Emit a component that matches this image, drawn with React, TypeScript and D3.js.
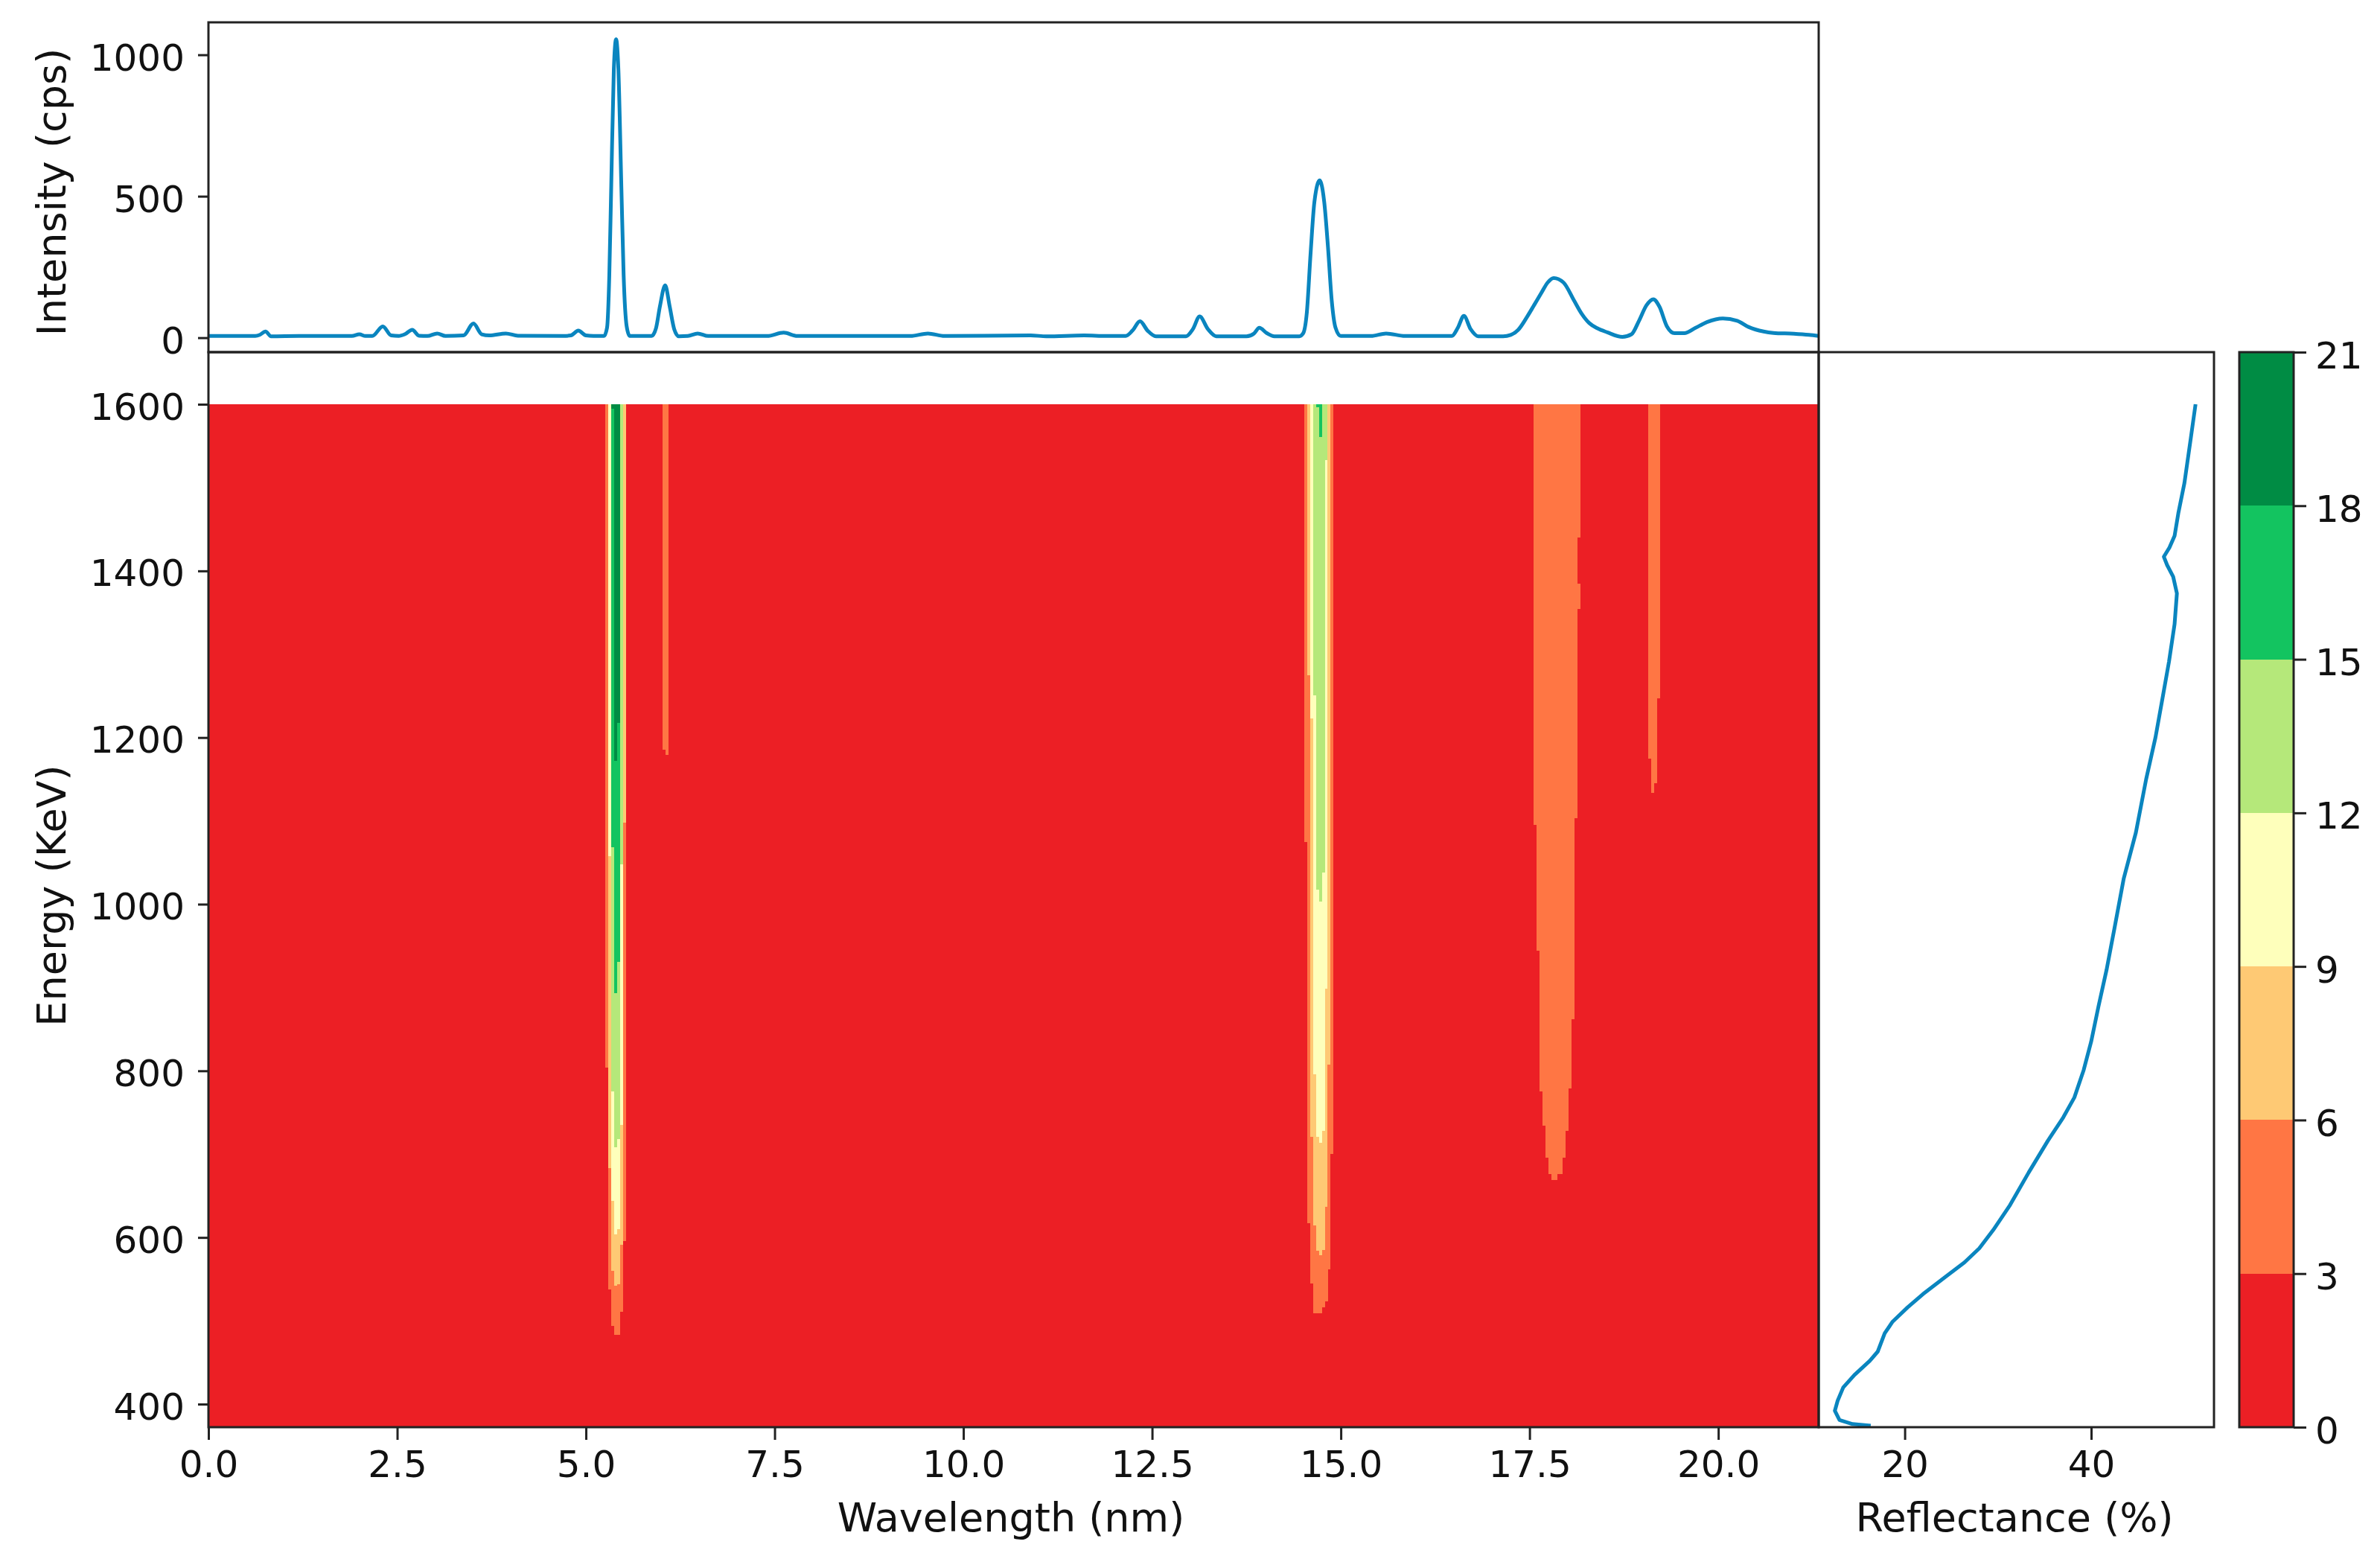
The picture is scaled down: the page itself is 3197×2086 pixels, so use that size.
import * as d3 from "d3";
import { useEffect, useRef } from "react";

// top panel: spectrum
const specWavelength = [
  0, 0.4, 0.62, 0.68, 0.755, 0.83, 1.2, 1.9, 2.0, 2.08, 2.17, 2.31, 2.42, 2.52, 2.6, 2.7, 2.79, 2.9, 3.03, 3.14, 3.38, 3.51,
  3.62, 3.72, 3.94, 4.1, 4.7, 4.8, 4.9, 5.0, 5.1, 5.24, 5.28, 5.31, 5.335, 5.37, 5.4, 5.43, 5.47, 5.5, 5.54, 5.58, 5.8, 5.87,
  5.93, 5.98, 6.05, 6.11, 6.17, 6.23, 6.35, 6.48, 6.62, 7.4, 7.62, 7.8, 9.3, 9.53, 9.75, 10.89, 11.1, 11.6, 11.9, 12.15, 12.24,
  12.34, 12.44, 12.55, 12.95, 13.04, 13.13, 13.24, 13.35, 13.75, 13.85, 13.92, 14.02, 14.12, 14.45, 14.5, 14.55, 14.6, 14.65,
  14.72, 14.78, 14.83, 14.88, 14.93, 15, 15.4, 15.6, 15.85, 16.47, 16.55, 16.63, 16.72, 16.82, 17.15, 17.25, 17.35, 17.47,
  17.56, 17.66, 17.74, 17.82, 17.95, 18.09, 18.19, 18.29, 18.4, 18.53, 18.73, 18.85, 18.95, 19.05, 19.14, 19.22, 19.32, 19.42,
  19.55, 19.7, 19.85, 20.06, 20.25, 20.4, 20.6, 20.73, 21, 21.2, 21.33,
];
const specIntensity = [
  6, 6, 6, 10, 22, 5, 6, 6, 12, 6, 6, 40, 8, 6, 12, 28, 7, 6, 15, 6, 8, 50, 12, 8, 15, 7, 6, 8, 25, 8, 6, 6, 35, 220, 530,
  950, 1055, 950, 530, 220, 40, 6, 6, 6, 35, 110, 185, 110, 30, 5, 6, 15, 6, 6, 18, 6, 6, 15, 6, 8, 5, 8, 6, 6, 25, 58, 25, 5,
  5, 30, 75, 30, 5, 5, 15, 35, 16, 5, 5, 15, 90, 300, 480, 556, 480, 320, 130, 35, 6, 6, 15, 6, 6, 35, 77, 30, 5, 5, 10, 28,
  75, 115, 160, 195, 211, 195, 131, 85, 52, 33, 19, 3, 12, 60, 115, 136, 110, 40, 16, 16, 35, 55, 68, 60, 38, 22, 17, 14, 10, 6,
];

// right panel: reflectance against energy
const reflEnergy = [
  1600, 1560, 1505, 1469, 1442, 1428, 1417, 1407, 1393, 1373, 1336, 1291, 1250, 1200, 1150, 1086, 1031, 971, 921, 878, 835,
  801, 768, 744, 716, 678, 639, 609, 587, 570, 553, 532, 516, 499, 485, 463, 452, 435, 420, 404, 392, 381, 376, 374,
];
const reflectance = [
  51.2, 50.7, 50, 49.35, 48.95, 48.4, 47.8, 48.15, 48.8, 49.2, 48.95, 48.35, 47.7, 46.9, 45.9, 44.8, 43.5, 42.5, 41.65, 40.8,
  40, 39.2, 38.2, 37, 35.35, 33.3, 31.3, 29.5, 28, 26.4, 24.4, 21.95, 20.3, 18.7, 17.85, 17.1, 16.25, 14.6, 13.4, 12.8, 12.5,
  13, 14.4, 16.35,
];

const xTicks = [0, 2.5, 5, 7.5, 10, 12.5, 15, 17.5, 20];
const intensityTicks = [0, 500, 1000];
const energyTicks = [400, 600, 800, 1000, 1200, 1400, 1600];
const reflTicks = [20, 40];
const levelTicks = [0, 3, 6, 9, 12, 15, 18, 21];
const levelColors = ["#ec1f25", "#ff7644", "#fec974", "#feffbb", "#b5e87a", "#13c460", "#008c44"];

const cellWidth = 0.0385;
const energyMax = 1600;

// heatmap columns: [wavelength, then lowest energy where the value reaches 3, 6, 9, 12, 15, 18]
type HeatRow = (number | null)[];
const peakA: HeatRow[] = [
  [5.256, 804, null, null, null, null, null],
  [5.296, 538, 683, 1058, null, null, null],
  [5.335, 494, 560, 644, 775, 1068, 1595],
  [5.375, 483, 542, 604, 708, 893, 1172],
  [5.414, 483, 544, 610, 718, 931, 1218],
  [5.454, 511, 591, 735, 1048, null, null],
  [5.493, 596, 1098, null, null, null, null],
];
const peakB: HeatRow[] = [
  [6.016, 1185, null, null, null, null, null],
  [6.055, 1179, null, null, null, null, null],
];
const peakC: HeatRow[] = [
  [14.518, 1075, null, null, null, null, null],
  [14.557, 617, 1275, null, null, null, null],
  [14.595, 545, 721, 1223, null, null, null],
  [14.634, 509, 614, 796, 1251, null, null],
  [14.672, 509, 584, 721, 1017, 1596, null],
  [14.711, 509, 579, 714, 1003, 1561, null],
  [14.749, 516, 585, 728, 1038, null, null],
  [14.788, 523, 637, 899, 1533, null, null],
  [14.826, 562, 807, null, null, null, null],
  [14.865, 700, null, null, null, null, null],
];
const peakD: HeatRow[] = [
  [17.556, 1095], [17.595, 944], [17.633, 775], [17.672, 734], [17.71, 696], [17.749, 676], [17.787, 669], [17.826, 669],
  [17.864, 676], [17.903, 676], [17.941, 696], [17.98, 728], [18.018, 779], [18.057, 862], [18.095, 1103], [18.134, 1354],
];
const peakE: HeatRow[] = [
  [19.07, 1175], [19.11, 1134], [19.15, 1145], [19.187, 1247],
];
// one column that drops back below 3 for a short stretch
const heatGaps = [{ wavelength: 18.134, from: 1385, to: 1440 }];

const W = 3197;
const H = 2086;
const left = 280;
const mainRight = 2443;
const reflRight = 2974;
const topY = 30;
const midY = 473;
const bottomY = 1917;
const barLeft = 3008;
const barRight = 3081;

const fontFamily = "'DejaVu Sans'";
const tickFont = 50;
const titleFont = 54;
const lineColor = "#0a85bf";
const spineColor = "#222";

export default function App() {
  const svgRef = useRef<SVGSVGElement | null>(null);

  useEffect(() => {
    if (!svgRef.current) return;
    const svg = d3.select(svgRef.current);
    svg.selectAll("*").remove();

    const x = d3.scaleLinear().domain([0, 21.33]).range([left, mainRight]);
    const yInt = d3.scaleLinear().domain([0, 1000]).range([453.6, 73.6]);
    const yEnergy = d3.scaleLinear().domain([400, 1600]).range([1886, 543]);
    const xRefl = d3.scaleLinear().domain([20, 40]).range([2558.6, 2809]);
    const yLevel = d3.scaleLinear().domain([0, 21]).range([bottomY, midY]);

    // heatmap
    const heat = svg.append("g").attr("shape-rendering", "crispEdges");
    heat
      .append("rect")
      .attr("x", left)
      .attr("y", yEnergy(energyMax))
      .attr("width", mainRight - left)
      .attr("height", bottomY - yEnergy(energyMax))
      .attr("fill", levelColors[0]);

    [peakA, peakB, peakC, peakD, peakE].forEach((peak) => {
      peak.forEach((row) => {
        const wl = row[0] as number;
        row.slice(1).forEach((onset, i) => {
          if (onset === null) return;
          heat
            .append("rect")
            .attr("x", x(wl))
            .attr("y", yEnergy(energyMax))
            .attr("width", x(wl + cellWidth) - x(wl))
            .attr("height", yEnergy(onset) - yEnergy(energyMax))
            .attr("fill", levelColors[i + 1]);
        });
      });
    });

    heatGaps.forEach((g) => {
      heat
        .append("rect")
        .attr("x", x(g.wavelength))
        .attr("y", yEnergy(g.to))
        .attr("width", x(g.wavelength + cellWidth) - x(g.wavelength))
        .attr("height", yEnergy(g.from) - yEnergy(g.to))
        .attr("fill", levelColors[0]);
    });

    // spectrum
    const specLine = d3
      .line<number>()
      .x((d) => x(d))
      .y((_, i) => yInt(specIntensity[i]))
      .curve(d3.curveMonotoneX);
    svg
      .append("path")
      .attr("d", specLine(specWavelength))
      .attr("fill", "none")
      .attr("stroke", lineColor)
      .attr("stroke-width", 5)
      .attr("stroke-linejoin", "round");

    // reflectance
    const reflLine = d3
      .line<number>()
      .x((d) => xRefl(d))
      .y((_, i) => yEnergy(reflEnergy[i]));
    svg
      .append("path")
      .attr("d", reflLine(reflectance))
      .attr("fill", "none")
      .attr("stroke", lineColor)
      .attr("stroke-width", 5)
      .attr("stroke-linejoin", "round");

    // colorbar
    levelColors.forEach((c, i) => {
      svg
        .append("rect")
        .attr("x", barLeft)
        .attr("y", yLevel(levelTicks[i + 1]))
        .attr("width", barRight - barLeft)
        .attr("height", yLevel(levelTicks[i]) - yLevel(levelTicks[i + 1]))
        .attr("fill", c)
        .attr("shape-rendering", "crispEdges");
    });

    // frames
    const frames = [
      [left, topY, mainRight, midY],
      [left, midY, mainRight, bottomY],
      [mainRight, midY, reflRight, bottomY],
      [barLeft, midY, barRight, bottomY],
    ];
    frames.forEach(([x0, y0, x1, y1]) => {
      svg
        .append("rect")
        .attr("x", x0)
        .attr("y", y0)
        .attr("width", x1 - x0)
        .attr("height", y1 - y0)
        .attr("fill", "none")
        .attr("stroke", spineColor)
        .attr("stroke-width", 3);
    });

    // axes
    const styleAxis = (g: d3.Selection<SVGGElement, unknown, null, undefined>, dy?: string) => {
      g.select(".domain").remove();
      g.selectAll(".tick line").attr("stroke", spineColor).attr("stroke-width", 3);
      g.selectAll(".tick text").attr("fill", "#111").attr("font-size", tickFont).attr("font-family", fontFamily);
      if (dy) g.selectAll(".tick text").attr("dy", dy);
    };

    svg
      .append("g")
      .attr("transform", `translate(0,${bottomY})`)
      .call(d3.axisBottom(x).tickValues(xTicks).tickFormat(d3.format(".1f")).tickSize(17).tickPadding(14))
      .call(styleAxis);
    svg
      .append("g")
      .attr("transform", `translate(0,${bottomY})`)
      .call(d3.axisBottom(xRefl).tickValues(reflTicks).tickFormat(d3.format("d")).tickSize(17).tickPadding(14))
      .call(styleAxis);
    svg
      .append("g")
      .attr("transform", `translate(${left},0)`)
      .call(d3.axisLeft(yInt).tickValues(intensityTicks).tickFormat(d3.format("d")).tickSize(14).tickPadding(18))
      .call(styleAxis, "0.42em");
    svg
      .append("g")
      .attr("transform", `translate(${left},0)`)
      .call(d3.axisLeft(yEnergy).tickValues(energyTicks).tickFormat(d3.format("d")).tickSize(14).tickPadding(18))
      .call(styleAxis, "0.4em");
    svg
      .append("g")
      .attr("transform", `translate(${barRight},0)`)
      .call(d3.axisRight(yLevel).tickValues(levelTicks).tickFormat(d3.format("d")).tickSize(17).tickPadding(12))
      .call(styleAxis, "0.42em");

    // axis titles
    const title = (text: string, tx: number, ty: number, rotate = 0) => {
      svg
        .append("text")
        .attr("transform", `translate(${tx},${ty}) rotate(${rotate})`)
        .attr("text-anchor", "middle")
        .attr("font-family", fontFamily)
        .attr("font-size", titleFont)
        .attr("fill", "#111")
        .text(text);
    };
    title("Wavelength (nm)", 1358, 2057);
    title("Reflectance (%)", 2706, 2057);
    title("Intensity (cps)", 88, 258, -90);
    title("Energy (KeV)", 88, 1203, -90);
  }, []);

  return <svg ref={svgRef} width={W} height={H} style={{ position: "absolute", left: 0, top: 0, background: "#fff" }} />;
}
